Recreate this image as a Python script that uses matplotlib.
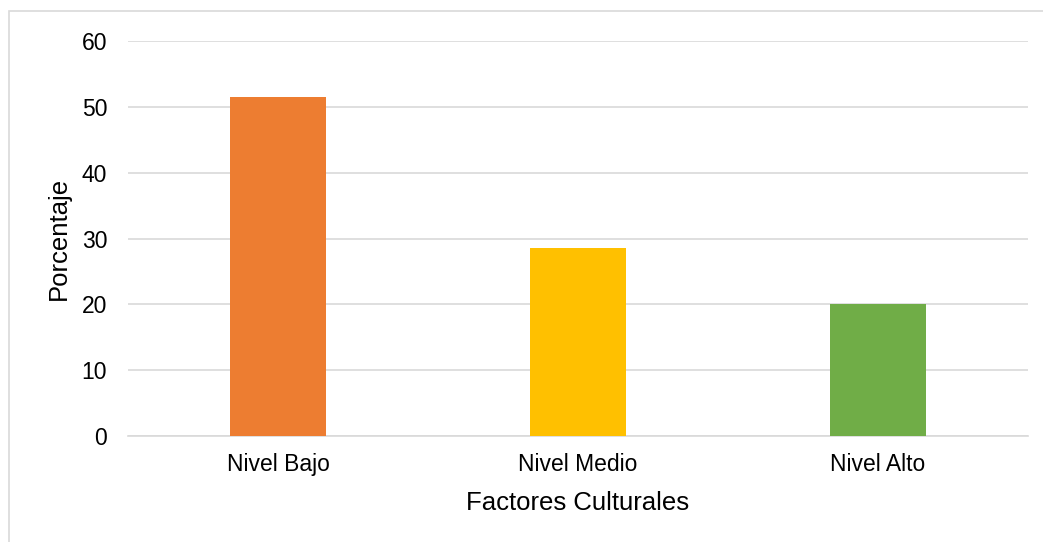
import matplotlib
matplotlib.use("Agg")
import matplotlib.pyplot as plt
from matplotlib.patches import Rectangle

categorias = ["Nivel Bajo", "Nivel Medio", "Nivel Alto"]
porcentajes = [51.5, 28.6, 20.0]
colores = ["#ED7D31", "#FFC000", "#70AD47"]
ticks_y = [0, 10, 20, 30, 40, 50, 60]

plt.rcParams['font.family'] = ['Liberation Sans', 'DejaVu Sans']

W, H = 1043, 542
fig = plt.figure(figsize=(W / 100, H / 100), dpi=100)
ax = fig.add_axes([128 / W, (H - 436) / H, 900 / W, 395 / H])

# marco del gráfico (solo se ven los bordes superior e izquierdo)
fig.patches.append(Rectangle((9 / W, -0.1), 1.2, (H - 11) / H + 0.1,
                             transform=fig.transFigure, fill=False,
                             edgecolor="#d9d9d9", linewidth=1.2))

x = range(len(categorias))
ax.bar(x, porcentajes, width=0.317, color=colores, zorder=3)

ax.set_xlim(-0.5, 2.5)
ax.set_ylim(0, 60)
ax.set_yticks(ticks_y)
ax.set_xticks(list(x))
ax.set_xticklabels(categorias)
ax.grid(axis="y", color="#d9d9d9", linewidth=1.2, zorder=0)
for s in ["top", "right", "left"]:
    ax.spines[s].set_visible(False)
ax.spines["bottom"].set_color("#d9d9d9")
ax.spines["bottom"].set_linewidth(1.2)
ax.tick_params(axis="both", length=0, labelsize=16.5, labelcolor="#000000")
ax.tick_params(axis="y", pad=15)
ax.tick_params(axis="x", pad=12)

ax.set_ylabel("Porcentaje", fontsize=18.5, labelpad=8)
ax.set_xlabel("Factores Culturales", fontsize=18.5, labelpad=11)

fig.savefig("out.png", dpi=100)
